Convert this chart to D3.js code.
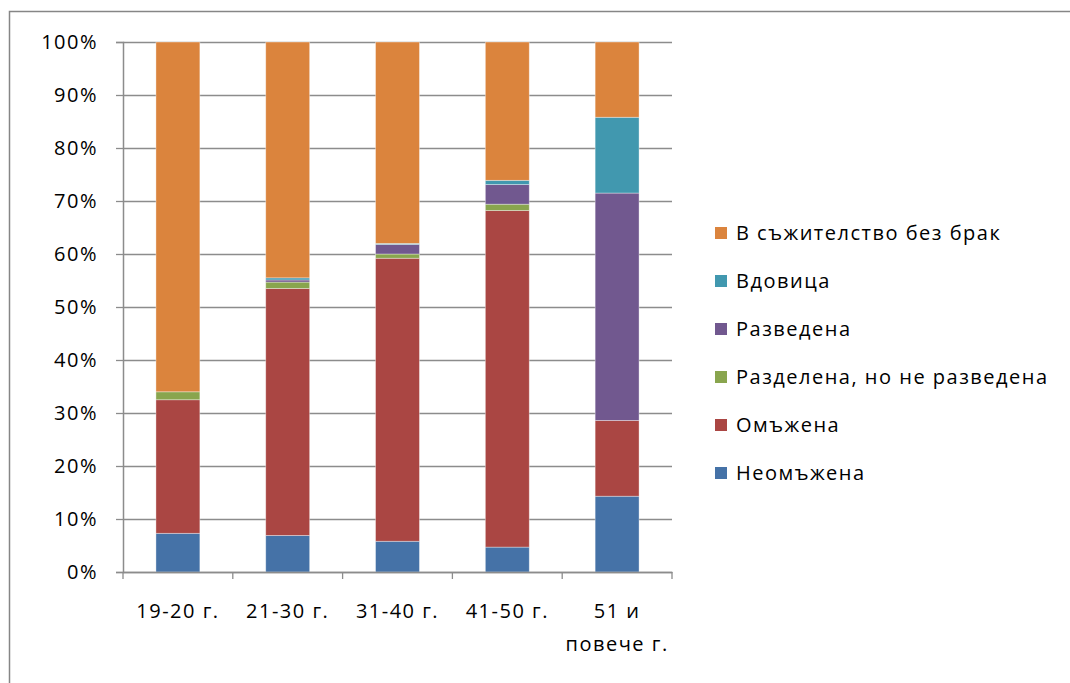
<!DOCTYPE html>
<html>
<head>
<meta charset="utf-8">
<script src="https://cdn.jsdelivr.net/npm/d3@7"></script>
<style>
  body { margin: 0; background: #fff; }
  text { font-family: "Open Sans", "Noto Sans", sans-serif; fill: #000; letter-spacing: 1.5px; }
</style>
</head>
<body>
<svg width="1070" height="683"></svg>
<script>
// age groups (second line only for the last one)
const categories = ["19-20 г.", "21-30 г.", "31-40 г.", "41-50 г.", "51 и\nповече г."];

// series, bottom to top, values in %
const seriesNames = ["Неомъжена", "Омъжена", "Разделена, но не разведена", "Разведена", "Вдовица", "В съжителство без брак"];
const neomazhena = [7.3, 6.9, 5.8, 4.7, 14.3];
const omazhena   = [25.2, 46.6, 53.4, 63.5, 14.3];
const razdelena  = [1.5, 1.2, 0.8, 1.2, 0];
const razvedena  = [0, 0.4, 1.8, 3.7, 42.9];
const vdovica    = [0, 0.4, 0.2, 0.8, 14.3];
const sazhitelstvo = [66.0, 44.5, 38.0, 26.1, 14.2];
const colors = ["#4572A7", "#AA4643", "#89A54E", "#71588F", "#4198AF", "#DB843D"];
const yTicks = [0, 10, 20, 30, 40, 50, 60, 70, 80, 90, 100];

const seriesValues = [neomazhena, omazhena, razdelena, razvedena, vdovica, sazhitelstvo];

const svg = d3.select("svg");

// outer chart border
svg.append("rect")
  .attr("x", 9.5).attr("y", 11.5)
  .attr("width", 1100).attr("height", 700)
  .attr("fill", "none")
  .attr("stroke", "#868686").attr("stroke-width", 1.5);

const plotLeft = 123, plotRight = 672, plotTop = 42, plotBottom = 572;

const x = d3.scaleBand().domain(categories).range([plotLeft, plotRight]).paddingInner(0.6).paddingOuter(0.3);
const y = d3.scaleLinear().domain([0, 100]).range([plotBottom, plotTop]);

// gridlines
svg.append("g")
  .selectAll("line")
  .data(yTicks)
  .enter().append("line")
  .attr("x1", plotLeft).attr("x2", plotRight)
  .attr("y1", d => y(d) + 0.5).attr("y2", d => y(d) + 0.5)
  .attr("stroke", "#8c8c8c").attr("stroke-width", 1.3);

// stacked bars
const rows = categories.map((c, i) => {
  const r = { cat: c };
  seriesNames.forEach((s, j) => r[s] = seriesValues[j][i]);
  return r;
});
const stacked = d3.stack().keys(seriesNames)(rows);

svg.append("g")
  .selectAll("g")
  .data(stacked)
  .enter().append("g")
  .attr("fill", (d, i) => colors[i])
  .selectAll("rect")
  .data(d => d.filter(p => p[1] - p[0] > 0))
  .enter().append("rect")
  .attr("x", d => x(d.data.cat))
  .attr("width", x.bandwidth())
  .attr("y", d => y(d[1]))
  .attr("height", d => y(d[0]) - y(d[1]))
  .attr("stroke", "#fff").attr("stroke-opacity", 0.45).attr("stroke-width", 0.8);

// y axis
const yAxis = svg.append("g")
  .attr("transform", `translate(${plotLeft},0)`)
  .call(d3.axisLeft(y).tickValues(yTicks).tickFormat(d => d + "%").tickSize(7).tickPadding(18));
yAxis.select(".domain").attr("stroke", "#8c8c8c").attr("stroke-width", 1.5);
yAxis.selectAll(".tick line").attr("stroke", "#8c8c8c").attr("stroke-width", 1.3);
yAxis.selectAll("text").attr("font-size", 20).attr("font-family", "Open Sans").attr("fill", "#000");

// x axis
const xAxis = svg.append("g")
  .attr("transform", `translate(0,${plotBottom})`)
  .call(d3.axisBottom(x).tickSize(0).tickFormat(""));
xAxis.select(".domain").attr("stroke", "#8c8c8c").attr("stroke-width", 1.5);

const boundaries = d3.range(categories.length + 1).map(i => plotLeft + i * (plotRight - plotLeft) / categories.length);
xAxis.selectAll(".sep")
  .data(boundaries)
  .enter().append("line")
  .attr("x1", d => d).attr("x2", d => d)
  .attr("y1", 0).attr("y2", 7)
  .attr("stroke", "#8c8c8c").attr("stroke-width", 1.3);

svg.append("g")
  .selectAll("text")
  .data(categories)
  .enter().append("text")
  .attr("font-size", 20)
  .attr("text-anchor", "middle")
  .attr("x", d => x(d) + x.bandwidth() / 2)
  .attr("y", 618)
  .each(function(d) {
    const lines = d.split("\n");
    lines.forEach((l, i) => {
      d3.select(this).append("tspan")
        .attr("x", x(d) + x.bandwidth() / 2)
        .attr("dy", i === 0 ? 0 : 33)
        .text(l);
    });
  });

// legend (top entry = top of stack)
const legendItems = seriesNames.slice().reverse();
const legend = svg.append("g")
  .selectAll("g")
  .data(legendItems)
  .enter().append("g")
  .attr("transform", (d, i) => `translate(715,${233 + i * 48})`);
legend.append("rect")
  .attr("x", 0).attr("y", -6).attr("width", 12).attr("height", 12)
  .attr("fill", d => colors[seriesNames.indexOf(d)]);
legend.append("text")
  .attr("x", 21).attr("y", 0).attr("dy", "0.35em")
  .attr("font-size", 20)
  .text(d => d);
</script>
</body>
</html>
